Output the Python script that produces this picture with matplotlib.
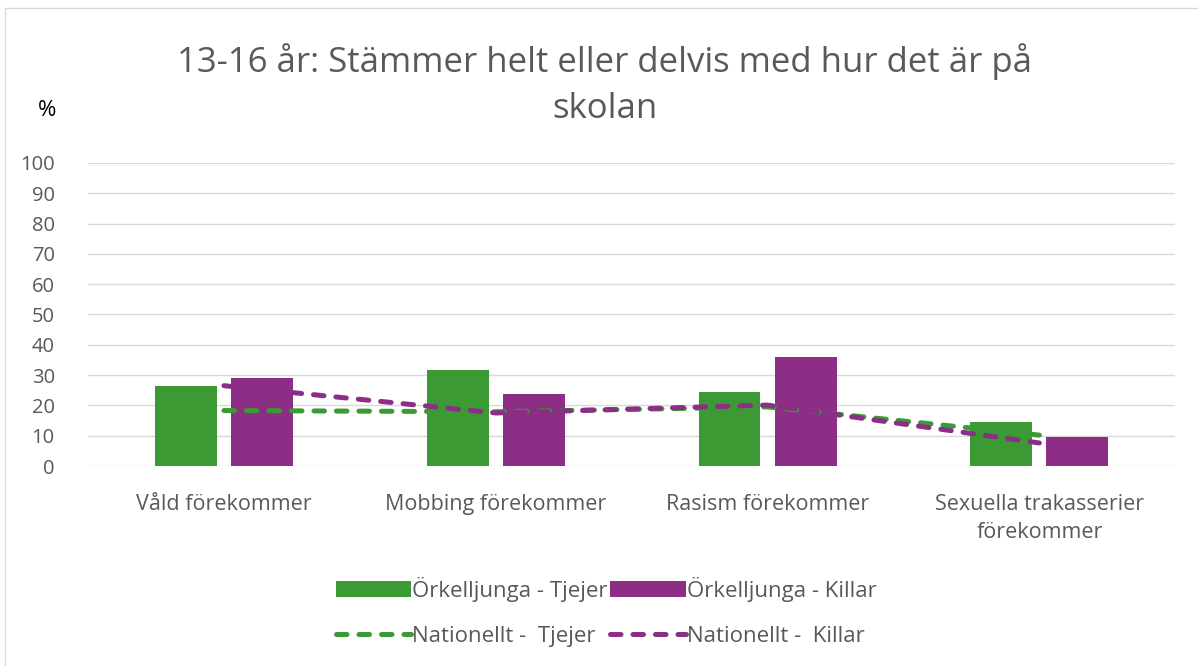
import numpy as np
import matplotlib
matplotlib.use('Agg')
import matplotlib.pyplot as plt
from matplotlib.patches import Rectangle

plt.rcParams['font.family'] = ['Open Sans', 'DejaVu Sans']

categories = ['Våld förekommer', 'Mobbing förekommer', 'Rasism förekommer',
              'Sexuella trakasserier\nförekommer']
ork_tjejer = [26.4, 31.7, 24.4, 14.5]
ork_killar = [29.0, 23.8, 36.0, 9.6]
nat_tjejer = [18.3, 17.9, 19.5, 10.2]
nat_killar = [26.5, 17.5, 20.1, 7.6]
yticks = list(range(0, 101, 10))

green = '#3C9A35'
purple = '#8C2D86'
grey = '#595959'

fig = plt.figure(figsize=(11.98, 6.66), dpi=100)
ax = fig.add_axes([0.0735, 0.3003, 0.9075, 0.455])

x = np.arange(len(categories))
w = 0.228
b1 = ax.bar(x - 0.14, ork_tjejer, w, color=green, zorder=2)
b2 = ax.bar(x + 0.14, ork_killar, w, color=purple, zorder=2)
ls = (0, (2.1, 2.4))
l1, = ax.plot(x, nat_tjejer, color=green, lw=3.6, linestyle=ls,
              dash_capstyle='round', zorder=3)
l2, = ax.plot(x, nat_killar, color=purple, lw=3.6, linestyle=ls,
              dash_capstyle='round', zorder=3)

ax.set_xlim(-0.5, 3.5)
ax.set_ylim(0, 100)
ax.set_yticks(yticks)
ax.set_xticks(x)
ax.set_xticklabels(categories, fontsize=15.5, color=grey, linespacing=1.45)
ax.tick_params(axis='y', labelsize=14.5, labelcolor=grey, length=0, pad=24)
ax.tick_params(axis='x', length=0, pad=20)
ax.grid(axis='y', color='#D9D9D9', lw=1, zorder=0)
for s in ax.spines.values():
    s.set_visible(False)

fig.text(0.505, 0.873, '13-16 år: Stämmer helt eller delvis med hur det är på\nskolan',
         ha='center', va='center', fontsize=25, color=grey, linespacing=1.45)
fig.text(0.039, 0.834, '%', ha='center', va='center', fontsize=16, color='black')

fig.legend([b1, l1, b2, l2],
           ['Örkelljunga - Tjejer', 'Nationellt -  Tjejer',
            'Örkelljunga - Killar', 'Nationellt -  Killar'],
           ncol=2, frameon=False,
           loc='center', bbox_to_anchor=(0.506, 0.081), fontsize=16,
           labelcolor=grey, handlelength=3.4, handletextpad=0.05,
           columnspacing=0.1, labelspacing=1.1)

fig.patches.append(Rectangle((5 / 1198, -0.1), 1.2, 1.1 - 8 / 666, transform=fig.transFigure,
                             fill=False, edgecolor='#D9D9D9', lw=1))

fig.savefig('out.png', dpi=100)
